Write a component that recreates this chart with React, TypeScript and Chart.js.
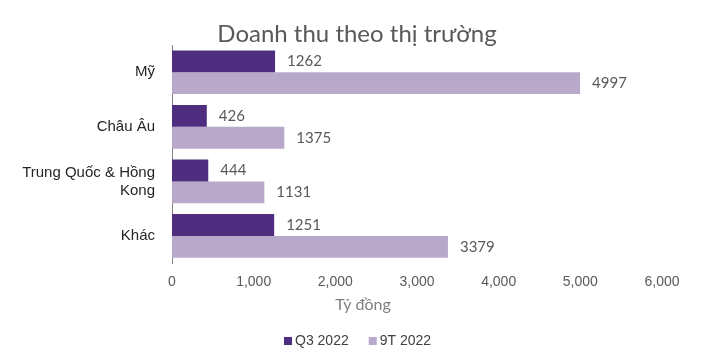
import React, { useEffect, useRef } from "react";
import { Chart, registerables } from "chart.js";

Chart.register(...registerables);

const categories: (string | string[])[] = ["Mỹ", "Châu Âu", ["Trung Quốc & Hồng", "Kong"], "Khác"];
const q3Values = [1262, 426, 444, 1251];
const ninetValues = [4997, 1375, 1131, 3379];
const seriesNames = ["Q3 2022", "9T 2022"];
const seriesColors = ["#4F2D7F", "#B8A9CB"];
const xTicks = [0, 1000, 2000, 3000, 4000, 5000, 6000];
const chartTitle = "Doanh thu theo thị trường";
const xTitle = "Tỷ đồng";

const labelPlugin = {
  id: "barLabels",
  afterDatasetsDraw(chart: any) {
    const ctx = chart.ctx;
    ctx.save();
    ctx.font = "15px Lato, 'Open Sans', sans-serif";
    ctx.fillStyle = "#595959";
    ctx.textBaseline = "middle";
    ctx.textAlign = "left";
    chart.data.datasets.forEach((ds: any, di: number) => {
      const meta = chart.getDatasetMeta(di);
      meta.data.forEach((bar: any, i: number) => {
        ctx.fillText(String(ds.data[i]), bar.x + 12, bar.y);
      });
    });
    ctx.restore();
  },
};

const decorPlugin = {
  id: "decor",
  afterDraw(chart: any) {
    const ctx = chart.ctx;
    ctx.save();
    // chart title
    ctx.font = "24px Lato, sans-serif";
    ctx.fillStyle = "#595959";
    ctx.textAlign = "center";
    ctx.textBaseline = "middle";
    ctx.fillText(chartTitle, 357, 34);
    // axis title
    ctx.font = "16px Lato, sans-serif";
    ctx.fillStyle = "#7F7F7F";
    ctx.fillText(xTitle, 363, 305);
    // legend
    ctx.font = "14px 'Liberation Sans', Arial, sans-serif";
    ctx.textAlign = "left";
    const ly = 341;
    let x = 284;
    seriesNames.forEach((name, i) => {
      ctx.fillStyle = seriesColors[i];
      ctx.fillRect(x, ly - 4, 8, 8);
      ctx.fillStyle = "#404040";
      ctx.fillText(name, x + 11, ly);
      x += 11 + ctx.measureText(name).width + 20;
    });
    ctx.restore();
  },
};

export default function App() {
  const ref = useRef<HTMLCanvasElement>(null);
  useEffect(() => {
    const chart = new Chart(ref.current!, {
      type: "bar",
      data: {
        labels: categories,
        datasets: [
          { label: seriesNames[0], data: q3Values, backgroundColor: seriesColors[0], borderWidth: 0 },
          { label: seriesNames[1], data: ninetValues, backgroundColor: seriesColors[1], borderWidth: 0 },
        ],
      },
      options: {
        indexAxis: "y",
        responsive: false,
        animation: false,
        layout: { padding: { left: 0, right: 58, top: 45, bottom: 53 } },
        datasets: { bar: { categoryPercentage: 0.8, barPercentage: 1.0 } },
        scales: {
          x: {
            min: 0,
            max: 6000,
            afterBuildTicks(scale: any) {
              scale.ticks = xTicks.map((v) => ({ value: v }));
            },
            grid: { display: false, drawTicks: false },
            border: { display: false },
            ticks: {
              padding: 11,
              color: "#595959",
              font: { family: "'Liberation Sans', Arial, sans-serif", size: 14 },
              callback: (v: any) => Number(v).toLocaleString("en-US"),
            },
          },
          y: {
            afterFit(scale: any) {
              scale.width = 172;
            },
            grid: { display: false, drawTicks: false },
            border: { display: true, color: "#808080", width: 1 },
            ticks: {
              padding: 17,
              color: "#262626",
              font: { family: "'Liberation Sans', Arial, sans-serif", size: 15 },
            },
          },
        },
        plugins: {
          title: { display: false },
          legend: { display: false },
          tooltip: { enabled: false },
        },
      },
      plugins: [labelPlugin, decorPlugin],
    } as any);
    return () => chart.destroy();
  }, []);
  return (
    <div style={{ position: "absolute", left: 0, top: 0, width: 720, height: 355, background: "#fff" }}>
      <canvas ref={ref} width={720} height={355} />
    </div>
  );
}
